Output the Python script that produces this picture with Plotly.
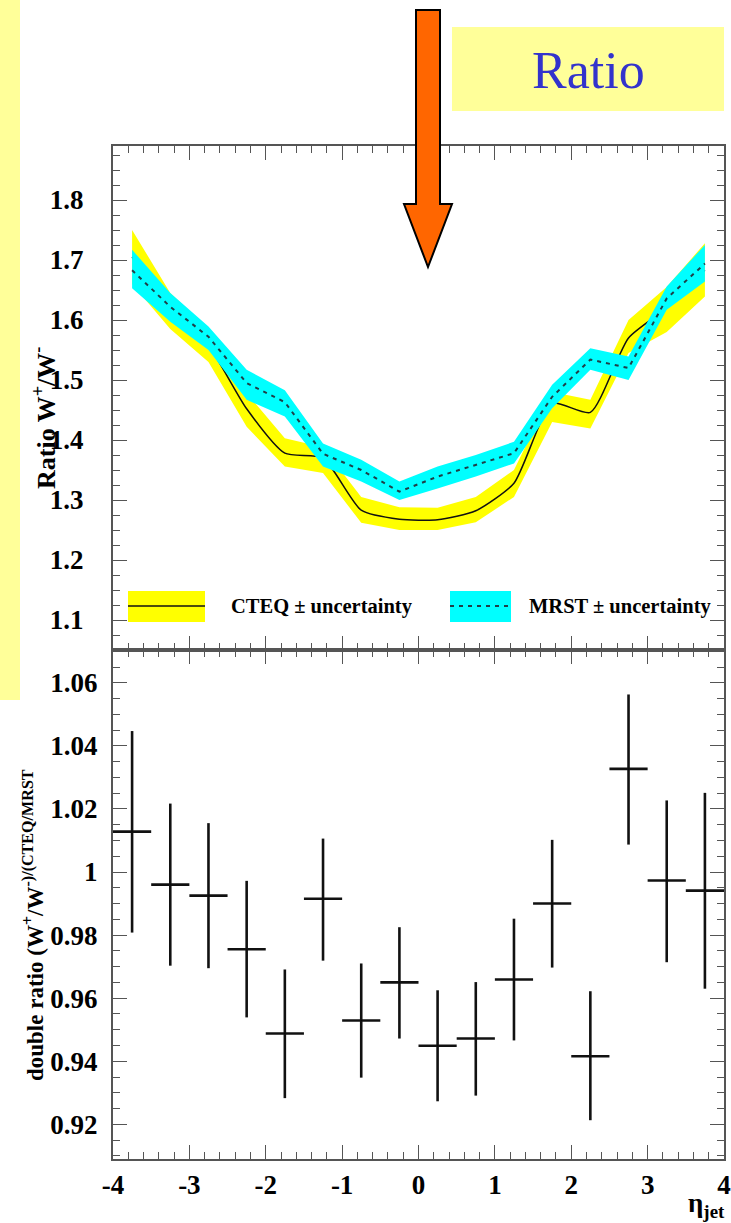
import plotly.graph_objects as go

# ---------------- data ----------------
eta = [-3.75, -3.25, -2.75, -2.25, -1.75, -1.25, -0.75, -0.25,
       0.25, 0.75, 1.25, 1.75, 2.25, 2.75, 3.25, 3.75]

cteq_c  = [1.705, 1.615, 1.557, 1.452, 1.378, 1.370, 1.283, 1.268,
           1.267, 1.282, 1.328, 1.461, 1.446, 1.570, 1.620, 1.683]
cteq_lo = [1.660, 1.585, 1.530, 1.422, 1.356, 1.345, 1.262, 1.250,
           1.250, 1.263, 1.305, 1.430, 1.419, 1.545, 1.580, 1.639]
cteq_hi = [1.750, 1.645, 1.585, 1.478, 1.403, 1.388, 1.305, 1.288,
           1.287, 1.305, 1.350, 1.480, 1.467, 1.600, 1.655, 1.728]

mrst_c  = [1.683, 1.622, 1.572, 1.495, 1.463, 1.377, 1.350, 1.314,
           1.339, 1.358, 1.378, 1.472, 1.534, 1.520, 1.636, 1.694]
mrst_lo = [1.653, 1.597, 1.550, 1.467, 1.439, 1.356, 1.331, 1.300,
           1.319, 1.339, 1.361, 1.453, 1.517, 1.500, 1.617, 1.664]
mrst_hi = [1.717, 1.645, 1.589, 1.517, 1.483, 1.394, 1.367, 1.331,
           1.356, 1.375, 1.397, 1.492, 1.553, 1.539, 1.656, 1.725]

dr    = [1.0128, 0.9960, 0.9925, 0.9755, 0.9488, 0.9915, 0.9529, 0.9650,
         0.9449, 0.9472, 0.9659, 0.9900, 0.9416, 1.0327, 0.9973, 0.9941]
dr_hi = [1.0447, 1.0217, 1.0155, 0.9972, 0.9691, 1.0106, 0.9710, 0.9825,
         0.9625, 0.9651, 0.9852, 1.0102, 0.9622, 1.0563, 1.0227, 1.0251]
dr_lo = [0.9808, 0.9703, 0.9695, 0.9539, 0.9283, 0.9719, 0.9348, 0.9472,
         0.9273, 0.9291, 0.9466, 0.9697, 0.9213, 1.0087, 0.9714, 0.9630]
bin_half = 0.25

x_ticks = [-4, -3, -2, -1, 0, 1, 2, 3, 4]
top_ticks = [1.1, 1.2, 1.3, 1.4, 1.5, 1.6, 1.7, 1.8]
bot_ticks = [0.92, 0.94, 0.96, 0.98, 1.0, 1.02, 1.04, 1.06]
bot_ticktext = ["0.92", "0.94", "0.96", "0.98", "1", "1.02", "1.04", "1.06"]

# ---------------- layout helpers ----------------
W, H = 731, 1223
L, R, T, B = 113, 7, 146, 64
PW, PH = W - L - R, H - T - B
def PX(px): return (px - L) / PW
def PY(py): return (H - B - py) / PH
split = PY(650)

SERIF = "Liberation Serif, Times New Roman, serif"
FRAME = "#555555"

fig = go.Figure()

# top panel bands and lines
fig.add_trace(go.Scatter(x=eta, y=cteq_lo, mode="lines", line=dict(width=0, color="#FFFF00"),
                         xaxis="x2", yaxis="y2", showlegend=False, hoverinfo="skip"))
fig.add_trace(go.Scatter(x=eta, y=cteq_hi, mode="lines", line=dict(width=0, color="#FFFF00"),
                         fill="tonexty", fillcolor="#FFFF00",
                         xaxis="x2", yaxis="y2", showlegend=False, hoverinfo="skip"))
fig.add_trace(go.Scatter(x=eta, y=cteq_c, mode="lines",
                         line=dict(width=1.5, color="#111111", shape="spline", smoothing=0.6),
                         xaxis="x2", yaxis="y2", showlegend=False))
fig.add_trace(go.Scatter(x=eta, y=mrst_lo, mode="lines", line=dict(width=0, color="#00FFFF"),
                         xaxis="x2", yaxis="y2", showlegend=False, hoverinfo="skip"))
fig.add_trace(go.Scatter(x=eta, y=mrst_hi, mode="lines", line=dict(width=0, color="#00FFFF"),
                         fill="tonexty", fillcolor="#00FFFF",
                         xaxis="x2", yaxis="y2", showlegend=False, hoverinfo="skip"))
fig.add_trace(go.Scatter(x=eta, y=mrst_c, mode="lines",
                         line=dict(width=2, color="#1f3f48", dash="4px,5px"),
                         xaxis="x2", yaxis="y2", showlegend=False))

# bottom panel: double ratio with error bars
fig.add_trace(go.Scatter(
    x=eta, y=dr, mode="markers",
    marker=dict(size=1, color="black"),
    error_y=dict(type="data", symmetric=False,
                 array=[h - v for h, v in zip(dr_hi, dr)],
                 arrayminus=[v - l for v, l in zip(dr, dr_lo)],
                 width=0, thickness=2.6, color="#111111"),
    error_x=dict(type="constant", value=bin_half, width=0, thickness=2.6, color="#111111"),
    xaxis="x", yaxis="y", showlegend=False))

tickfont = dict(family=SERIF, size=27, color="black", weight="bold")
common_x = dict(range=[-4, 4], showline=True, linecolor=FRAME, linewidth=2, mirror="allticks",
                ticks="inside", ticklen=14, tickwidth=1, tickcolor=FRAME, automargin=False,
                tickvals=x_ticks, showgrid=False, zeroline=False,
                minor=dict(ticks="inside", ticklen=7, dtick=0.2, tickcolor=FRAME, tickwidth=1, showgrid=False))

fig.update_layout(
    width=W, height=H, margin=dict(l=L, r=R, t=T, b=B, autoexpand=False),
    paper_bgcolor="white", plot_bgcolor="white",
    xaxis=dict(**common_x, anchor="y", tickfont=tickfont, ticklabelstandoff=1,
               ticktext=[str(v) for v in x_ticks]),
    xaxis2=dict(**common_x, anchor="y2", matches="x", showticklabels=False),
    yaxis=dict(domain=[0, split], range=[0.909, 1.0704], showline=True, linecolor=FRAME, linewidth=2,
               mirror="allticks", ticks="inside", ticklen=14, tickwidth=1, tickcolor=FRAME, automargin=False,
               tickvals=bot_ticks, ticktext=bot_ticktext, tickfont=tickfont, ticklabelstandoff=8,
               showgrid=False, zeroline=False,
               minor=dict(ticks="inside", ticklen=7, dtick=0.005, tickcolor=FRAME, tickwidth=1, showgrid=False)),
    yaxis2=dict(domain=[split, 1], range=[1.05, 1.89], showline=True, linecolor=FRAME, linewidth=2,
                mirror="allticks", ticks="inside", ticklen=14, tickwidth=1, tickcolor=FRAME, automargin=False,
                tickvals=top_ticks, tickformat=".1f", tickfont=tickfont, ticklabelstandoff=22,
                showgrid=False, zeroline=False,
                minor=dict(ticks="inside", ticklen=7, dtick=0.025, tickcolor=FRAME, tickwidth=1, showgrid=False)),
)

shapes = []
# yellow strip on the left
shapes.append(dict(type="rect", xref="paper", yref="paper", x0=PX(0), x1=PX(20), y0=PY(700), y1=PY(0),
                   fillcolor="#FFFF99", line=dict(width=0), layer="below"))
# "Ratio" box
shapes.append(dict(type="rect", xref="paper", yref="paper", x0=PX(452), x1=PX(724), y0=PY(111), y1=PY(27),
                   fillcolor="#FFFF99", line=dict(width=0), layer="below"))
# orange arrow
pts = [(416, 10), (440, 10), (440, 204), (452, 204), (428, 267), (404, 204), (416, 204)]
path = "M " + " L ".join(f"{PX(a):.5f},{PY(b):.5f}" for a, b in pts) + " Z"
shapes.append(dict(type="path", xref="paper", yref="paper", path=path,
                   fillcolor="#FF6600", line=dict(color="black", width=2), layer="above"))
# legend symbols
shapes.append(dict(type="rect", xref="paper", yref="paper", x0=PX(128), x1=PX(205), y0=PY(622), y1=PY(591),
                   fillcolor="#FFFF00", line=dict(width=0)))
shapes.append(dict(type="line", xref="paper", yref="paper", x0=PX(128), x1=PX(205), y0=PY(606), y1=PY(606),
                   line=dict(color="#111111", width=1.5)))
shapes.append(dict(type="rect", xref="paper", yref="paper", x0=PX(450), x1=PX(511), y0=PY(622), y1=PY(591),
                   fillcolor="#00FFFF", line=dict(width=0)))
shapes.append(dict(type="line", xref="paper", yref="paper", x0=PX(450), x1=PX(511), y0=PY(606), y1=PY(606),
                   line=dict(color="#1f3f48", width=2, dash="4px,5px")))
fig.update_layout(shapes=shapes)

ann = []
ann.append(dict(text="Ratio", xref="paper", yref="paper", x=PX(588), y=PY(70), showarrow=False,
                font=dict(family=SERIF, size=52, color="#3333CC"), xanchor="center", yanchor="middle"))
ann.append(dict(text="CTEQ ± uncertainty", xref="paper", yref="paper", x=PX(229), y=PY(606), showarrow=False,
                font=dict(family=SERIF, size=20.5, color="black", weight="bold"), xanchor="left", yanchor="middle"))
ann.append(dict(text="MRST ± uncertainty", xref="paper", yref="paper", x=PX(527), y=PY(606), showarrow=False,
                font=dict(family=SERIF, size=20.5, color="black", weight="bold"), xanchor="left", yanchor="middle"))
ann.append(dict(text="Ratio W<sup>+</sup>/W<sup>-</sup>", xref="paper", yref="paper", x=PX(44), y=PY(418),
                showarrow=False, textangle=-90,
                font=dict(family=SERIF, size=26, color="black", weight="bold"), xanchor="center", yanchor="middle"))
ann.append(dict(text="double ratio (W<sup>+</sup>/W<sup>-)/(CTEQ/MRST</sup>", xref="paper", yref="paper",
                x=PX(33), y=PY(925), showarrow=False, textangle=-90,
                font=dict(family=SERIF, size=23, color="black", weight="bold"), xanchor="center", yanchor="middle"))
ann.append(dict(text="η<sub>jet</sub>", xref="paper", yref="paper", x=PX(706), y=PY(1205), showarrow=False,
                font=dict(family=SERIF, size=27, color="black", weight="bold"), xanchor="center", yanchor="middle"))
fig.update_layout(annotations=ann)

fig.write_html("out.html")
